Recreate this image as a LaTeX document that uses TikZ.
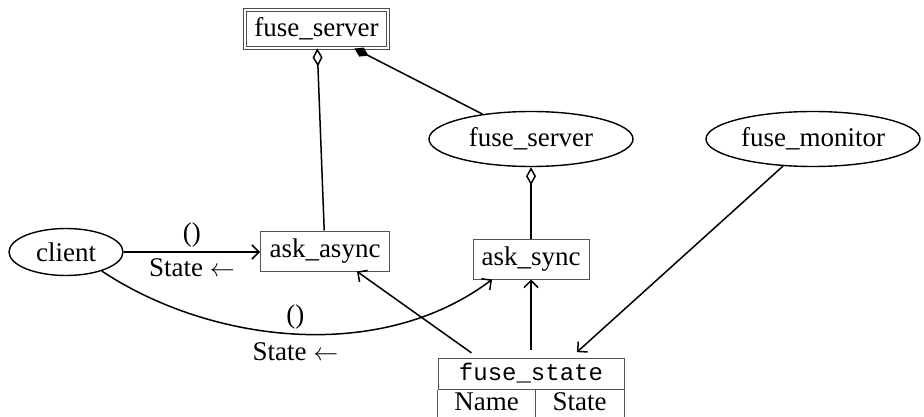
\documentclass[tikz,border=0pt]{standalone}
\usepackage{fontspec}
\setmainfont{Liberation Serif}
\newfontfamily\tablemono{Liberation Mono}
\usetikzlibrary{arrows.meta,shapes.geometric}
\begin{document}
\begin{tikzpicture}[x=1pt,y=-1pt,
  every node/.style={font=\fontsize{27}{31}\selectfont},
  ell/.style={draw=black, ellipse, line width=1.4pt, inner sep=0pt, minimum width=#1, minimum height=55},
  box/.style={draw=gray!65!black, rectangle, line width=1pt, minimum height=40, inner sep=0pt, minimum width=#1},
  dbox/.style={draw=gray!60!black, double=white, double distance=2pt, line width=0.9pt, minimum width=143, minimum height=38, inner sep=0pt},
  cell/.style={draw=gray!65!black, rectangle, line width=1pt, minimum height=31, inner sep=0pt, minimum width=#1},
  cellline/.style={draw=gray!65!black, line width=1pt},
  celltext/.style={inner sep=0pt},
  edge/.style={line width=1.5pt},
  arr/.style={edge, -{Straight Barb[length=7pt,width=14pt]}},
  odia/.style={edge, {Diamond[open,length=18pt,width=10pt]}-},
  fdia/.style={edge, {Diamond[length=16pt,width=10pt]}-},
  lbl/.style={inner sep=1pt}
]
\useasboundingbox (0,0) rectangle (924,417);

\node[dbox] (fsbox) at (316.5,29) {fuse\_server};
\node[ell=204] (srv) at (531,139) {fuse\_server};
\node[ell=214] (mon) at (813,139) {fuse\_monitor};
\node[ell=114, minimum height=47] (client) at (66,252) {client};
\node[box=129] (async) at (325,251) {ask\_async};
\node[box=116] (sync) at (531,259) {ask\_sync};

\node[cell=186] (fs) at (531,373.5) {\tablemono\fontsize{24}{28}\selectfont fuse\_state};
\node[celltext] (fsname) at (486.5,402) {Name};
\node[celltext] (fsstate) at (579.5,402) {State};
\draw[cellline] (fs.south west) -- ++(0,40);
\draw[cellline] (fs.south east) -- ++(0,40);
\draw[cellline] ([xshift=4]fs.south) -- ++(0,40);

% aggregation / composition
\draw[odia] (fsbox) -- (async);
\draw[fdia] (fsbox) -- (srv);
\draw[odia] (srv) -- (sync);

% client calls
\draw[arr] (client.east) -- (async.west |- client.east)
  node[midway, above=3pt, lbl] (l1) {()}
  node[midway, below=5pt, lbl] (l2) {State $\leftarrow$};
\draw[arr] (client.-28) .. controls (210,343) and (380,364) .. ([xshift=-39]sync.south)
  node[pos=0.5, above=3pt, lbl] (l3) {()}
  node[pos=0.5, below=7pt, lbl] (l4) {State $\leftarrow$};

% state table links
\draw[arr, shorten <=8pt] ([xshift=-53]fs.north) -- ([xshift=32]async.south);
\draw[arr, shorten <=8pt] (fs.north) -- (sync.south);
\draw[arr, shorten >=8pt] (mon) -- ([xshift=40]fs.north);
\end{tikzpicture}
\end{document}
